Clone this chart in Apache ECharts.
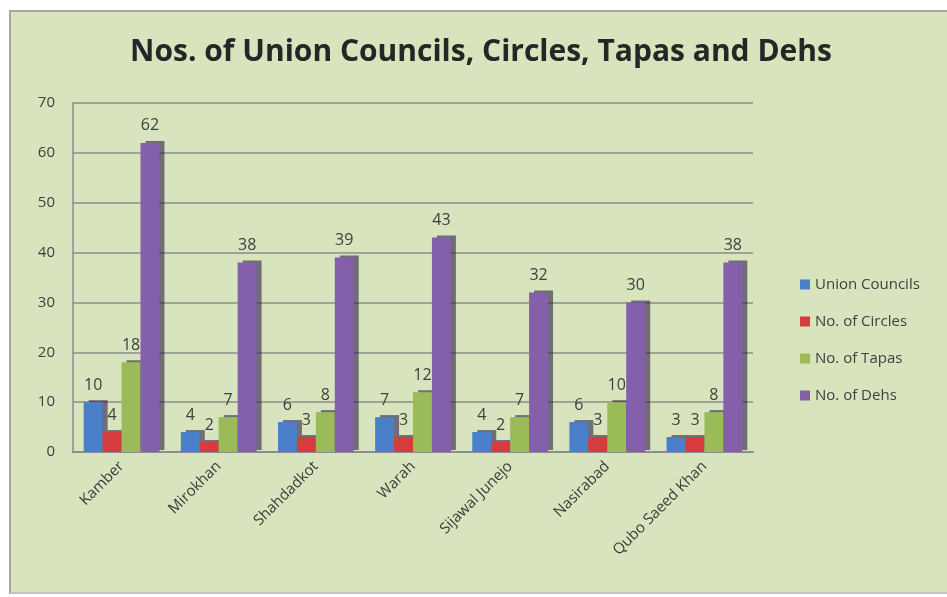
<!DOCTYPE html>
<html>
<head>
<meta charset="utf-8">
<script src="https://cdn.jsdelivr.net/npm/echarts@6/dist/echarts.min.js"></script>
<style>
	html, body { margin: 0; padding: 0; background: #fff; }
	#wrap { position: relative; width: 947px; height: 597px; overflow: hidden; }
	#chart {
		position: absolute; left: 9px; top: 10px;
		width: 940px; height: 580px;
		background: #d7e4bd;
		border-left: 2px solid #a6a6a6;
		border-top: 2px solid #a6a6a6;
		border-bottom: 2px solid #c4c4c4;
	}
</style>
</head>
<body>
<div id="wrap"><div id="chart"></div></div>
<script>
	// 数据
	const categories = ['Kamber', 'Mirokhan', 'Shahdadkot', 'Warah', 'Sijawal Junejo', 'Nasirabad', 'Qubo Saeed Khan'];
	const unionCouncils = [10, 4, 6, 7, 4, 6, 3];
	const circles = [4, 2, 3, 3, 2, 3, 3];
	const tapas = [18, 7, 8, 12, 7, 10, 8];
	const dehs = [62, 38, 39, 43, 32, 30, 38];
	const yTicks = { min: 0, max: 70, interval: 10 };

	const chart = echarts.init(document.getElementById('chart'));

	// 柱子样式 (模拟3D侧面)
	const barSeries = (name, data, color) => ({
		name: name,
		type: 'bar',
		data: data,
		barGap: '0%',
		barCategoryGap: '22%',
		itemStyle: {
			color: color,
			shadowColor: 'rgba(45,30,70,0.6)',
			shadowBlur: 0,
			shadowOffsetX: 5,
			shadowOffsetY: -2
		},
		label: {
			show: true,
			position: 'top',
			distance: 9,
			color: '#404040',
			fontSize: 16,
			fontFamily: 'Open Sans'
		}
	});

	const option = {
		animation: false,
		backgroundColor: 'transparent',
		textStyle: { fontFamily: 'Open Sans' },
		title: {
			text: 'Nos. of Union Councils, Circles, Tapas and Dehs',
			left: 'center',
			top: 20,
			textStyle: {
				fontFamily: 'Open Sans',
				fontSize: 30,
				fontWeight: 'bold',
				color: '#262626'
			}
		},
		legend: {
			orient: 'vertical',
			left: 784,
			top: 260,
			itemWidth: 10,
			itemHeight: 10,
			itemGap: 22,
			icon: 'rect',
			textStyle: { color: '#404040', fontSize: 15, fontFamily: 'Open Sans' },
			data: ['Union Councils', 'No. of Circles', 'No. of Tapas', 'No. of Dehs']
		},
		grid: {
			left: 62,
			top: 91,
			right: 198,
			bottom: 140,
			containLabel: false
		},
		xAxis: {
			type: 'category',
			data: categories,
			axisLine: { show: true, lineStyle: { color: '#8c8c8c', width: 2 } },
			axisTick: { show: false },
			axisLabel: {
				rotate: 45,
				interval: 0,
				margin: 12,
				color: '#3a3a3a',
				fontSize: 15,
				fontFamily: 'Open Sans'
			}
		},
		yAxis: {
			type: 'value',
			min: yTicks.min,
			max: yTicks.max,
			interval: yTicks.interval,
			axisLine: { show: true, lineStyle: { color: '#8c8c8c', width: 1.5 } },
			axisTick: { show: false },
			splitLine: { show: true, lineStyle: { color: '#8c8c8c', width: 1.5 } },
			axisLabel: {
				margin: 18,
				color: '#404040',
				fontSize: 15,
				fontFamily: 'Open Sans'
			}
		},
		series: [
			barSeries('Union Councils', unionCouncils, '#4a7fc9'),
			barSeries('No. of Circles', circles, '#d63c3c'),
			barSeries('No. of Tapas', tapas, '#9bbb59'),
			barSeries('No. of Dehs', dehs, '#8460ab')
		]
	};

	chart.setOption(option);
	window.addEventListener('resize', function() {
		chart.resize();
	});
</script>
</body>
</html>
